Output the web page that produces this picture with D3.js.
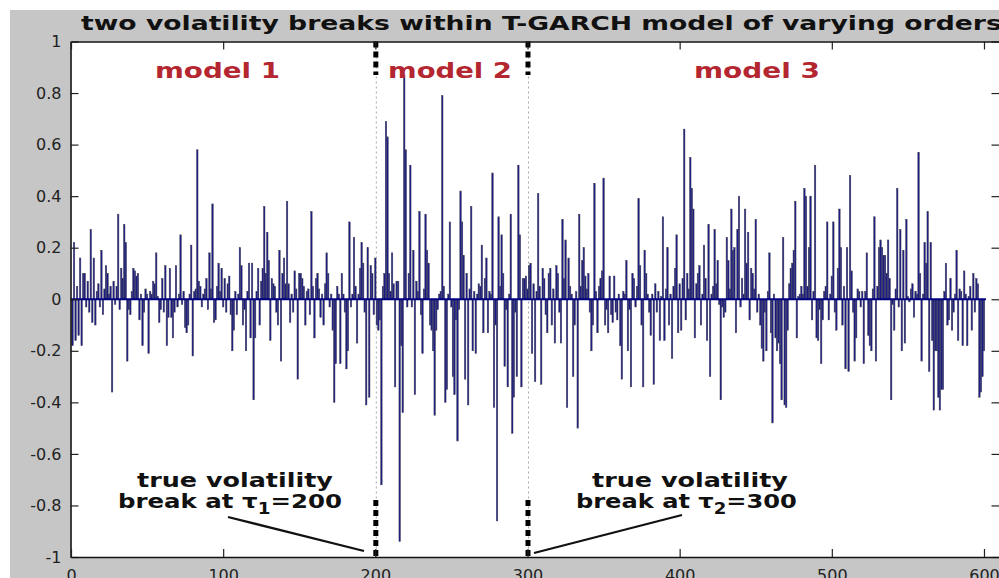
<!DOCTYPE html>
<html><head><meta charset="utf-8">
<script src="https://cdn.jsdelivr.net/npm/d3@7"></script>
<style>html,body{margin:0;padding:0;background:#fff;}svg{display:block;}</style>
</head><body>
<svg id="c" width="999" height="578"></svg>
<script>
// ---------- data ----------
const titleText = "two volatility breaks within T-GARCH model of varying orders";
const modelLabels = ["model 1", "model 2", "model 3"];
const breakPoints = [200, 300];
const xTicks = [0, 100, 200, 300, 400, 500, 600];
const yTicks = [-1, -0.8, -0.6, -0.4, -0.2, 0, 0.2, 0.4, 0.6, 0.8, 1];

// observations 1..200 (model 1)
const model1 = [
-0.18,0.22,-0.16,0.05,-0.14,0.16,-0.18,0.1,0.1,-0.03,0.07,-0.05,0.27,-0.09,0.16,-0.1,0.03,0.06,-0.03,0.19,
-0.06,0.04,0.13,0.1,0.02,0.05,-0.36,0.07,-0.02,0.05,0.33,-0.04,0.12,0.08,0.29,0.22,-0.24,-0.04,-0.06,0.03,
0.12,0.11,0.09,0.1,-0.08,0.02,-0.18,-0.05,0.04,0.02,-0.21,0.03,0.02,0.07,0.06,0.18,0.01,-0.09,-0.04,0.08,
-0.05,0.13,-0.18,-0.07,0.12,-0.07,-0.15,-0.05,0.13,-0.03,0.02,0.25,-0.02,0.03,-0.11,-0.13,-0.1,0.02,0.21,-0.22,
0.03,0.04,0.58,0.07,0.05,-0.03,0.02,0.04,0.08,-0.04,0.18,0.04,0.37,-0.09,-0.08,0.05,0.14,0.03,0.12,-0.03,
0.08,-0.05,0.06,0.09,-0.06,-0.2,-0.12,0.03,-0.06,0.02,0.2,0.13,-0.1,-0.04,-0.2,0.03,0.14,-0.15,0.14,-0.39,
-0.15,0.03,0.12,-0.1,0.07,0.12,0.36,0.1,0.26,0.15,-0.16,0.08,0.06,0.05,-0.05,-0.1,0.19,-0.24,0.1,0.16,
0.06,0.38,0.06,-0.09,0.02,-0.05,0.11,0.04,-0.31,0.1,0.1,0.08,0.05,-0.1,0.03,0.04,-0.06,0.34,0.05,-0.15,
0.08,0.1,0.04,-0.07,0.02,-0.1,0.06,0.18,0.1,-0.03,0.02,-0.12,-0.4,-0.25,0.05,0.02,-0.25,0.1,0.02,-0.05,
-0.27,-0.2,0.3,-0.03,0.02,0.24,0.05,-0.17,0.02,0.12,0.22,0.14,-0.05,-0.41,0.2,-0.38,0.13,0.1,-0.06,0.16
];
// observations 201..300 (model 2)
const model2 = [
-0.1,-0.12,-0.08,-0.72,0.05,0.1,0.69,0.63,0.1,0.03,0.18,0.06,-0.34,0.07,0.07,-0.94,-0.18,-0.44,0.87,0.58,
-0.03,0.1,0.52,-0.03,0.19,-0.37,0.07,0.03,0.34,-0.06,-0.21,0.04,0.33,0.19,0.14,-0.1,-0.12,-0.2,-0.45,-0.12,
-0.04,0.02,0.03,0.79,0.05,-0.4,-0.35,0.02,0.3,-0.03,-0.3,-0.37,-0.08,-0.55,-0.04,0.42,0.3,0.17,-0.31,0.1,
-0.41,0.04,0.36,-0.2,0.03,-0.21,0.02,0.06,0.05,0.21,-0.13,0.08,0.16,-0.13,0.03,0.02,0.49,-0.42,-0.1,-0.86,
0.32,0.05,0.25,0.1,-0.26,-0.04,-0.34,0.02,0.33,-0.52,-0.38,-0.05,-0.3,0.52,0.25,-0.34,0.08,0.08,0.09,0.04
];
// observations 301..600 (model 3)
const model3 = [
0.13,0.14,-0.21,0.06,-0.32,0.03,0.41,0.05,-0.33,0.12,0.08,-0.06,-0.13,0.1,0.12,-0.1,0.04,-0.17,0.13,0.1,
-0.05,-0.17,0.31,0.08,0.23,-0.42,0.16,0.05,0.02,-0.3,-0.1,0.03,-0.5,0.33,0.05,0.15,0.2,0.09,0.04,0.1,
-0.05,-0.2,-0.1,0.45,0.03,-0.13,0.05,0.08,0.11,0.47,-0.1,-0.04,-0.13,0.09,-0.06,-0.09,0.09,-0.05,-0.08,0.02,
-0.18,-0.31,0.03,0.02,0.15,-0.2,-0.04,-0.34,0.1,0.08,-0.03,0.05,0.39,0.13,-0.1,-0.34,0.19,0.1,0.02,-0.05,
-0.14,0.02,-0.33,0.06,-0.05,0.03,-0.16,0.01,0.32,-0.16,0.04,0.2,-0.1,0.02,-0.23,0.05,0.12,0.25,-0.13,0.06,
-0.12,0.08,0.66,-0.08,0.1,0.04,0.55,0.43,0.35,-0.15,0.06,0.1,0.13,-0.1,0.02,0.21,0.08,-0.16,0.29,-0.3,
0.02,0.05,0.27,0.06,0.15,-0.02,-0.39,-0.03,-0.07,-0.05,0.24,0.15,0.04,0.35,0.19,0.2,-0.13,0.27,0.4,-0.03,
0.08,0.02,0.35,0.14,0.26,-0.08,0.12,0.1,0.04,0.31,-0.05,0.02,-0.1,-0.19,-0.24,-0.05,-0.2,0.03,0.18,-0.13,
-0.48,0.02,-0.15,-0.2,-0.17,-0.25,-0.39,0.24,-0.41,-0.42,-0.12,0.06,0.12,0.14,0.19,0.38,-0.15,0.01,0.02,0.05,
0.02,0.43,0.4,0.05,0.2,0.4,-0.08,0.03,0.52,-0.15,-0.16,-0.04,-0.25,-0.08,0.03,0.05,0.3,-0.08,0.02,0.09,
0.3,-0.05,-0.12,0.12,0.35,0.2,-0.1,0.05,-0.27,0.2,-0.28,0.48,0.11,-0.05,-0.24,-0.15,0.04,0.03,-0.03,0.03,
-0.25,0.03,0.18,-0.14,-0.18,-0.2,0.04,0.32,-0.24,0.05,0.2,0.23,0.2,0.17,0.17,0.1,0.23,0.08,-0.39,-0.02,
-0.12,0.04,0.43,-0.03,0.27,-0.2,0.19,-0.17,0.31,0.01,-0.01,0.04,0.06,-0.07,0.03,0.02,0.57,0.1,-0.24,0.02,
0.22,0.14,0.34,-0.28,0.22,-0.16,-0.43,-0.2,-0.2,-0.38,-0.43,-0.35,-0.35,0.03,0.14,-0.1,-0.08,0.08,-0.12,-0.05,
0.02,0.19,-0.16,0.04,0.03,-0.18,0.11,0.02,-0.18,0.01,0.05,-0.12,0.1,-0.05,0.08,0.06,-0.38,-0.36,-0.3,-0.2
];
const series = model1.concat(model2, model3);

// ---------- layout ----------
const W = 999, H = 578;
const svg = d3.select("#c");
const x = d3.scaleLinear().domain([0, 610]).range([71, 999.2]);
const y = d3.scaleLinear().domain([-1, 1]).range([557, 41.5]);
const pLeft = 70.5, pRight = 999.5, pTop = y(1), pBottom = y(-1);

svg.append("rect").attr("x", 0).attr("y", 0).attr("width", W).attr("height", H).attr("fill", "#ffffff");
svg.append("rect").attr("x", 10).attr("y", 10).attr("width", W - 10).attr("height", H - 10).attr("fill", "#c6c6c6");
svg.append("rect").attr("x", pLeft).attr("y", pTop).attr("width", pRight - pLeft).attr("height", pBottom - pTop).attr("fill", "#ffffff");

// thin dotted break lines
svg.selectAll("line.brk").data(breakPoints).join("line").attr("class", "brk")
  .attr("x1", d => x(d) + 1).attr("x2", d => x(d) + 1).attr("y1", pTop).attr("y2", pBottom)
  .attr("stroke", "#a8a8a8").attr("stroke-width", 1).attr("stroke-dasharray", "2,3");

// bars
const bw = x(0.95) - x(0);
svg.append("g").selectAll("rect").data(series).join("rect")
  .attr("x", (d, i) => x(i + 1) - bw / 2)
  .attr("width", bw)
  .attr("y", d => d >= 0 ? y(d) : y(0))
  .attr("height", d => Math.abs(y(d) - y(0)))
  .attr("fill", "#1a1a8c")
  .attr("stroke", "#3e3e55").attr("stroke-width", 0.5);

// baseline
svg.append("line").attr("x1", x(1) - 2).attr("x2", x(series.length) + 2)
  .attr("y1", y(0)).attr("y2", y(0)).attr("stroke", "#000080").attr("stroke-width", 1.8);

// thick dotted segments at breaks
breakPoints.forEach(b => {
  const xx = x(b) + 0.5;
  svg.append("line").attr("x1", xx).attr("x2", xx).attr("y1", pTop).attr("y2", 75)
    .attr("stroke", "#000").attr("stroke-width", 5).attr("stroke-dasharray", "6,4");
  svg.append("line").attr("x1", xx).attr("x2", xx).attr("y1", 500).attr("y2", pBottom)
    .attr("stroke", "#000").attr("stroke-width", 5).attr("stroke-dasharray", "6,4");
});

// axes
const fmt = v => (v < 0 ? "-" : "") + String(Math.abs(Math.round(v * 10) / 10));
const gL = svg.append("g").attr("transform", `translate(${pLeft},0)`)
  .call(d3.axisLeft(y).tickValues(yTicks).tickSize(-8).tickSizeOuter(0).tickPadding(9).tickFormat(fmt));
const gR = svg.append("g").attr("transform", `translate(${pRight},0)`)
  .call(d3.axisRight(y).tickValues(yTicks).tickSize(-8).tickSizeOuter(0).tickFormat(""));
const gB = svg.append("g").attr("transform", `translate(0,${pBottom})`)
  .call(d3.axisBottom(x).tickValues(xTicks).tickSize(-8).tickSizeOuter(0).tickPadding(13).tickFormat(d3.format("d")));
const gT = svg.append("g").attr("transform", `translate(0,${pTop})`)
  .call(d3.axisTop(x).tickValues(xTicks).tickSize(-8).tickSizeOuter(0).tickFormat(""));
[gL, gR, gB, gT].forEach(g => {
  g.select(".domain").attr("stroke", "#111").attr("stroke-width", 1.6);
  g.selectAll(".tick line").attr("stroke", "#222").attr("stroke-width", 1.2);
  g.selectAll("text").attr("font-family", "DejaVu Sans").attr("font-size", 16).attr("fill", "#222");
});

// text helper: fit text to a horizontal span
function fitText(sel, x0, x1) {
  const w = sel.node().getComputedTextLength();
  const k = (x1 - x0) / w;
  sel.attr("transform", `translate(${x0},0) scale(${k},1) translate(${-x0},0)`);
}

// title
const t = svg.append("text").attr("x", 81).attr("y", 30).text(titleText)
  .attr("font-family", "DejaVu Sans").attr("font-weight", "bold").attr("font-size", 20).attr("fill", "#111");
fitText(t, 81, 1002);

// model labels
const modelSpans = [[155, 280], [388, 512], [694, 820]];
modelLabels.forEach((m, i) => {
  const s = svg.append("text").attr("x", modelSpans[i][0]).attr("y", 78).text(m)
    .attr("font-family", "DejaVu Sans").attr("font-weight", "bold").attr("font-size", 21).attr("fill", "#b42630");
  fitText(s, modelSpans[i][0], modelSpans[i][1]);
});

// annotations
function annot(x0a, x1a, x0b, x1b, sub, val, line) {
  const a = svg.append("text").attr("x", x0a).attr("y", 487).text("true volatility")
    .attr("font-family", "DejaVu Sans").attr("font-weight", "bold").attr("font-size", 20).attr("fill", "#111");
  fitText(a, x0a, x1a);
  const b = svg.append("text").attr("x", x0b).attr("y", 508)
    .attr("font-family", "DejaVu Sans").attr("font-weight", "bold").attr("font-size", 20).attr("fill", "#111");
  b.append("tspan").text("break at τ");
  b.append("tspan").attr("dy", 6).attr("font-size", 15).text(sub);
  b.append("tspan").attr("dy", -6).text("=" + val);
  fitText(b, x0b, x1b);
  svg.append("line").attr("x1", line[0]).attr("y1", line[1]).attr("x2", line[2]).attr("y2", line[3])
    .attr("stroke", "#111").attr("stroke-width", 2.2);
}
annot(137, 333, 118, 342, "1", breakPoints[0], [228, 517, 364, 551]);
annot(592, 788, 576, 797, "2", breakPoints[1], [682, 515, 534, 553]);
</script>
</body></html>
